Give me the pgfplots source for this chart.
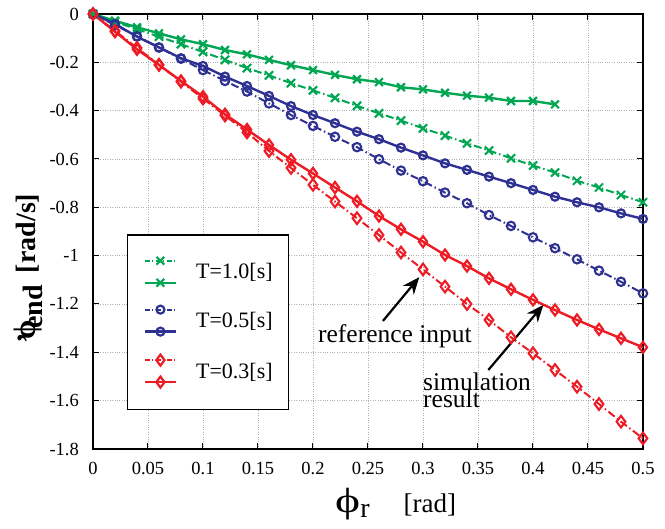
\documentclass[border=0pt]{standalone}
\usepackage{fontspec}
\setmainfont{Liberation Serif}
\usepackage{graphicx}
\usepackage{pgfplots}
\usepackage{pgfplotstable}
\pgfplotsset{compat=1.18}
\usetikzlibrary{arrows.meta}
\definecolor{cgreen}{RGB}{0,166,81}
\definecolor{cblue}{RGB}{46,49,146}
\definecolor{cred}{RGB}{237,28,36}

% T=1.0 simulation result
\pgfplotstableread{
x y
0 0
0.02 -0.028
0.04 -0.055
0.06 -0.080
0.08 -0.105
0.10 -0.125
0.12 -0.149
0.14 -0.167
0.16 -0.190
0.18 -0.212
0.20 -0.232
0.22 -0.252
0.24 -0.270
0.26 -0.282
0.28 -0.303
0.30 -0.312
0.32 -0.326
0.34 -0.338
0.36 -0.346
0.38 -0.360
0.40 -0.360
0.42 -0.374
}\gsim
% T=1.0 reference input
\pgfplotstableread{
x y
0 0
0.02 -0.032
0.04 -0.063
0.06 -0.094
0.08 -0.125
0.10 -0.157
0.12 -0.190
0.14 -0.224
0.16 -0.254
0.18 -0.286
0.20 -0.316
0.22 -0.347
0.24 -0.380
0.26 -0.411
0.28 -0.441
0.30 -0.473
0.32 -0.503
0.34 -0.535
0.36 -0.565
0.38 -0.597
0.40 -0.627
0.42 -0.656
0.44 -0.690
0.46 -0.718
0.48 -0.749
0.50 -0.779
}\gref
% T=0.5 simulation result
\pgfplotstableread{
x y
0 0
0.02 -0.041
0.04 -0.094
0.06 -0.138
0.08 -0.183
0.10 -0.215
0.12 -0.259
0.14 -0.298
0.16 -0.339
0.18 -0.381
0.20 -0.418
0.22 -0.452
0.24 -0.487
0.26 -0.518
0.28 -0.553
0.30 -0.585
0.32 -0.618
0.34 -0.645
0.36 -0.673
0.38 -0.700
0.40 -0.728
0.42 -0.756
0.44 -0.779
0.46 -0.800
0.48 -0.825
0.50 -0.848
}\bsim
% T=0.5 reference input
\pgfplotstableread{
x y
0 0
0.02 -0.046
0.04 -0.092
0.06 -0.139
0.08 -0.185
0.10 -0.232
0.12 -0.277
0.14 -0.321
0.16 -0.370
0.18 -0.418
0.20 -0.463
0.22 -0.508
0.24 -0.551
0.26 -0.601
0.28 -0.648
0.30 -0.692
0.32 -0.739
0.34 -0.783
0.36 -0.832
0.38 -0.877
0.40 -0.924
0.42 -0.969
0.44 -1.015
0.46 -1.062
0.48 -1.108
0.50 -1.156
}\bref
% T=0.3 simulation result
\pgfplotstableread{
x y
0 0
0.02 -0.073
0.04 -0.146
0.06 -0.211
0.08 -0.277
0.10 -0.342
0.12 -0.415
0.14 -0.478
0.16 -0.542
0.18 -0.603
0.20 -0.660
0.22 -0.718
0.24 -0.775
0.26 -0.836
0.28 -0.891
0.30 -0.942
0.32 -0.997
0.34 -1.043
0.36 -1.094
0.38 -1.139
0.40 -1.183
0.42 -1.225
0.44 -1.266
0.46 -1.305
0.48 -1.342
0.50 -1.379
}\rsim
% T=0.3 reference input
\pgfplotstableread{
x y
0 0
0.02 -0.070
0.04 -0.140
0.06 -0.210
0.08 -0.280
0.10 -0.350
0.12 -0.420
0.14 -0.490
0.16 -0.567
0.18 -0.637
0.20 -0.707
0.22 -0.776
0.24 -0.845
0.26 -0.915
0.28 -0.987
0.30 -1.057
0.32 -1.128
0.34 -1.200
0.36 -1.266
0.38 -1.338
0.40 -1.404
0.42 -1.473
0.44 -1.542
0.46 -1.614
0.48 -1.687
0.50 -1.756
}\rref

\pgfplotsset{
  refline/.style={line width=2bp, dash pattern=on 8bp off 3bp on 1.5bp off 3bp, mark=none, forget plot},
  refmarks/.style={only marks, line width=2.1bp, forget plot},
  simsty/.style={line width=2.4bp, mark options={line width=2.2bp}},
  twoline/.style={legend image code/.code={
    \draw[##1, mark=none, line width=2bp, dash pattern=on 5bp off 2.5bp on 1bp off 2.5bp]
      (0bp,11bp) -- (31bp,11bp);
    \draw[##1, only marks, mark repeat=2, mark phase=2]
      plot coordinates {(0bp,11bp) (15.5bp,11bp) (31bp,11bp)};
    \draw[##1, mark repeat=2, mark phase=2]
      plot coordinates {(0bp,-11bp) (15.5bp,-11bp) (31bp,-11bp)};
  }},
}

\begin{document}
\begin{tikzpicture}
\path[use as bounding box] (-93bp,-80bp) rectangle (572bp,449bp);
\begin{axis}[
  at={(0,0)}, anchor=south west,
  scale only axis, width=550bp, height=435bp,
  xmin=0, xmax=0.5, ymin=-1.8, ymax=0,
  xtick={0,0.05,0.1,0.15,0.2,0.25,0.3,0.35,0.4,0.45,0.5},
  xticklabels={0,0.05,0.1,0.15,0.2,0.25,0.3,0.35,0.4,0.45,0.5},
  ytick={-1.8,-1.6,-1.4,-1.2,-1,-0.8,-0.6,-0.4,-0.2,0},
  yticklabels={-1.8,-1.6,-1.4,-1.2,-1,-0.8,-0.6,-0.4,-0.2,0},
  tick align=inside, major tick length=6bp,
  grid=major, major grid style={gray!60, dotted, line width=0.9bp},
  axis line style={line width=1.5bp},
  tick style={black, line width=1bp},
  ticklabel style={font=\fontsize{18.5bp}{20bp}\selectfont},
  yticklabel style={anchor=east, inner sep=0pt, xshift=-14bp},
  xticklabel style={anchor=north, inner sep=0pt, yshift=-12.5bp},
  clip=false,
  xlabel={{\fontsize{34bp}{34bp}\selectfont\scalebox{1.4}[1.03]{ϕ}}\raisebox{-5bp}{\fontsize{28bp}{28bp}\selectfont r}\hspace{34bp}{\fontsize{27bp}{27bp}\selectfont [rad]}},
  every axis x label/.style={at={(axis description cs:0.434,-0.145)}, anchor=base west},
  ylabel={\bfseries{\fontsize{31bp}{31bp}\selectfont ϕ\llap{\raisebox{-3bp}{’}\kern14bp}}\kern-9bp\raisebox{-7bp}{\fontsize{28bp}{28bp}\selectfont end}\hspace{12bp}{\fontsize{28bp}{28bp}\selectfont [rad/s]}},
  every axis y label/.style={at={(axis description cs:-0.118,0.4198)}, rotate=90, anchor=center},
  legend style={at={(axis description cs:0.0618,0.494)}, anchor=north west, draw=black, line width=1.5bp,
    font=\fontsize{22bp}{24bp}\selectfont, row sep=19bp, inner xsep=16bp, inner ysep=22bp,
    nodes={inner xsep=0pt},
    /tikz/every odd column/.append style={column sep=19bp}},
  legend cell align=left,
]
\addplot[refline, color=cgreen] table {\gref};
\addplot[refmarks, color=cgreen, mark=x, mark size=5.8bp] table {\gref};
\addplot[simsty, color=cgreen, mark=x, mark size=5.5bp, twoline] table {\gsim};
\addlegendentry{T=1.0[s]}
\addplot[refline, color=cblue] table {\bref};
\addplot[refmarks, color=cblue, mark=o, mark size=4.2bp] table {\bref};
\addplot[simsty, color=cblue, mark=o, mark size=4bp, twoline] table {\bsim};
\addlegendentry{T=0.5[s]}
\addplot[refline, color=cred] table {\rref};
\addplot[refmarks, color=cred, mark=diamond, mark size=5.8bp] table {\rref};
\addplot[simsty, color=cred, mark=diamond, mark size=5.5bp, twoline] table {\rsim};
\addlegendentry{T=0.3[s]}

\node[anchor=base west, inner sep=0pt, font=\fontsize{25.5bp}{18bp}\selectfont] at (axis cs:0.2045,-1.361) {reference input};
\node[anchor=base west, inner sep=0pt, font=\fontsize{25.5bp}{18bp}\selectfont] at (axis cs:0.3,-1.556) {simulation};
\node[anchor=base west, inner sep=0pt, font=\fontsize{25.5bp}{18bp}\selectfont] at (axis cs:0.3,-1.630) {result};
\draw[line width=2.2bp, -{Stealth[length=17bp,width=14bp]}] (axis cs:0.2636,-1.270) -- (axis cs:0.2966,-1.089);
\draw[line width=2.2bp, -{Stealth[length=17bp,width=14bp]}] (axis cs:0.3594,-1.473) -- (axis cs:0.4094,-1.204);
\end{axis}
\end{tikzpicture}
\end{document}
